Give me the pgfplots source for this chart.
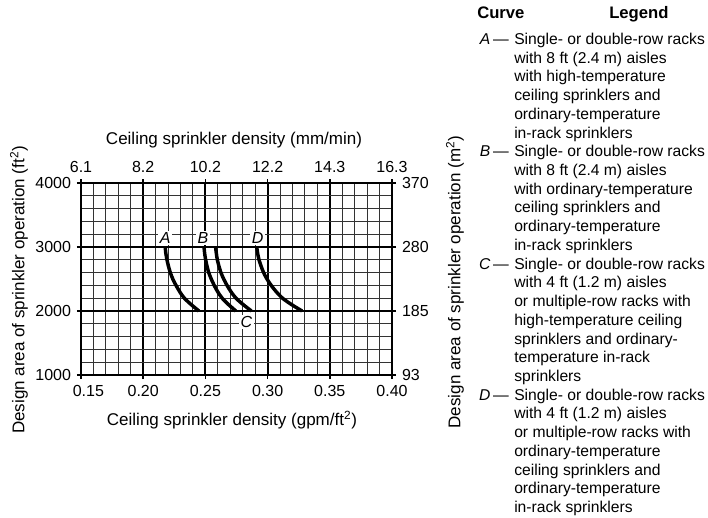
\documentclass[border=0pt]{standalone}
\usepackage{pgfplots}
\pgfplotsset{compat=1.18}
\usepackage{fontspec}
\setmainfont{Liberation Sans}
\begin{document}
\begin{tikzpicture}
\begin{scope}[x=0.75pt,y=-0.75pt]
\path[use as bounding box] (0,0) rectangle (708,518);
\end{scope}
\pgfplotsset{
  commonax/.style={
    at={(60.75pt,-281.25pt)}, anchor=south west,
    width=233.25pt, height=144pt, scale only axis,
    xmin=0.15, xmax=0.40, ymin=1000, ymax=4000,
    xtick={0.15,0.20,0.25,0.30,0.35,0.40},
    ytick={1000,2000,3000,4000},
    tick align=outside, major tick length=3pt, minor tick length=0pt,
    ticklabel style={font=\fontsize{12}{14}\selectfont},
    /pgf/number format/assume math mode=true,
    xticklabel shift=1pt, yticklabel shift=1pt,
    clip=false,
  }
}
\begin{axis}[commonax,
  xticklabels={\hspace*{11pt}0.15,0.20,0.25,0.30,0.35,0.40},
  yticklabels={1000,2000,3000,4000},
  minor x tick num=4, minor y tick num=4,
  grid=both,
  major grid style={black, line width=1.4pt},
  minor grid style={black!80, line width=0.75pt},
  axis line style={black, line width=1.5pt},
  major tick style={black, line width=1.2pt},
]
\addplot[black, line width=2.6pt, smooth] coordinates {
 (0.2177,3000) (0.2182,2900) (0.2191,2800) (0.2203,2700) (0.2218,2600) (0.2238,2500)
 (0.2264,2400) (0.2294,2300) (0.2331,2200) (0.2386,2100) (0.2448,2000)};
\addplot[black, line width=2.6pt, smooth] coordinates {
 (0.2489,3000) (0.2494,2900) (0.2502,2800) (0.2513,2700) (0.2527,2600) (0.2547,2500)
 (0.2571,2400) (0.2599,2300) (0.2635,2200) (0.2686,2100) (0.2745,2000)};
\addplot[black, line width=2.6pt, smooth] coordinates {
 (0.2582,3000) (0.2588,2900) (0.2596,2800) (0.2609,2700) (0.2625,2600) (0.2647,2500)
 (0.2674,2400) (0.2706,2300) (0.2746,2200) (0.2804,2100) (0.2870,2000)};
\addplot[black, line width=2.6pt, smooth] coordinates {
 (0.2913,3000) (0.2920,2900) (0.2931,2800) (0.2948,2700) (0.2968,2600) (0.2995,2500)
 (0.3029,2400) (0.3070,2300) (0.3120,2200) (0.3193,2100) (0.3277,2000)};
\begin{scope}[every node/.style={fill=white, inner sep=1.2pt, font=\itshape\fontsize{12}{14}\selectfont}]
\node at (axis cs:0.2177,3140) {A};
\node at (axis cs:0.2480,3140) {B};
\node at (axis cs:0.2920,3140) {D};
\node at (axis cs:0.2830,1826) {C};
\end{scope}
\end{axis}
\begin{axis}[commonax,
  xticklabel pos=upper, yticklabel pos=right,
  xticklabels={6.1,8.2,10.2,12.2,14.3,16.3},
  yticklabels={93,185,280,370},
  axis line style={draw=none}, tick style={draw=none},
]
\end{axis}
\begin{scope}[x=0.75pt,y=-0.75pt]
\node[rotate=90, font=\fontsize{12.75}{15}\selectfont] at (19,290) {Design area of sprinkler operation (ft\textsuperscript{2})};
\node[rotate=90, font=\fontsize{12.75}{15}\selectfont] at (455,282) {Design area of sprinkler operation (m\textsuperscript{2})};
\node[font=\fontsize{12.75}{15}\selectfont] at (234,140) {Ceiling sprinkler density (mm/min)};
\node[font=\fontsize{12.75}{15}\selectfont] at (232,420) {Ceiling sprinkler density (gpm/ft\textsuperscript{2})};
\begin{scope}[every node/.style={inner sep=0pt, font=\fontsize{11.75}{14}\selectfont}]
\node[anchor=base west, font=\bfseries\fontsize{12.5}{14}\selectfont] at (477,18.5) {Curve};
\node[anchor=base west, font=\bfseries\fontsize{12.5}{14}\selectfont] at (609,18.5) {Legend};
\node[anchor=base east] at ({509},{44.5}) {\textit{A}\kern2pt—};
\node[anchor=base east] at ({509},{44.5+18.72*6}) {\textit{B}\kern2pt—};
\node[anchor=base east] at ({509},{44.5+18.72*12}) {\textit{C}\kern2pt—};
\node[anchor=base east] at ({509},{44.5+18.72*19}) {\textit{D}\kern2pt—};
\foreach \t [count=\i from 0] in {
 {Single- or double-row racks}, {with 8 ft (2.4 m) aisles}, {with high-temperature},
 {ceiling sprinklers and}, {ordinary-temperature}, {in-rack sprinklers},
 {Single- or double-row racks}, {with 8 ft (2.4 m) aisles}, {with ordinary-temperature},
 {ceiling sprinklers and}, {ordinary-temperature}, {in-rack sprinklers},
 {Single- or double-row racks}, {with 4 ft (1.2 m) aisles}, {or multiple-row racks with},
 {high-temperature ceiling}, {sprinklers and ordinary-}, {temperature in-rack}, {sprinklers},
 {Single- or double-row racks}, {with 4 ft (1.2 m) aisles}, {or multiple-row racks with},
 {ordinary-temperature}, {ceiling sprinklers and}, {ordinary-temperature}, {in-rack sprinklers}}
 { \node[anchor=base west] at (514,{44.5+18.72*\i}) {\t}; }
\end{scope}
\end{scope}
\end{tikzpicture}
\end{document}
